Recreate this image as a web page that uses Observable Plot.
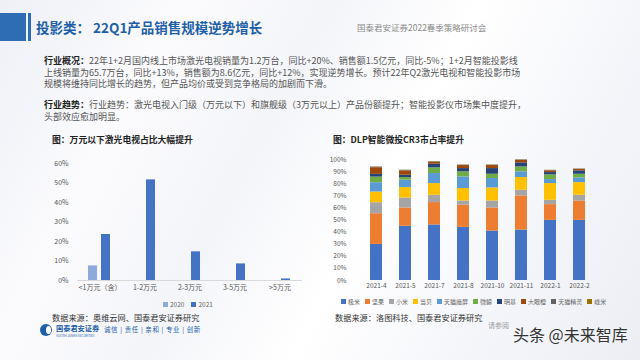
<!DOCTYPE html>
<html>
<head>
<meta charset="utf-8">
<script src="https://cdn.jsdelivr.net/npm/d3@7"></script>
<script src="https://cdn.jsdelivr.net/npm/@observablehq/plot@0.6"></script>
<style>
  html, body { margin:0; padding:0; }
  body {
    width:640px; height:360px; overflow:hidden; position:relative;
    font-family:"Noto Sans CJK SC","Noto Sans",sans-serif;
    background: linear-gradient(118deg, #eef0f6 0%, #fbfbfd 22%, #f4f5f9 40%, #ffffff 58%, #f5f6fa 78%, #eceef4 100%);
  }
  .abs { position:absolute; white-space:nowrap; }
  #hbar1 { left:0; top:13px; width:26px; height:28px; background:#2e6db4; }
  #hbar2 { left:28px; top:13px; width:3px; height:28px; background:#2e6db4; }
  #title { left:36px; top:17px; font-size:13.5px; font-weight:bold; color:#1f5fa6; }
  #conf { left:357px; top:21px; font-size:8.5px; color:#8a8a8a; }
  .para { left:44px; font-size:9px; color:#555; line-height:11.5px; }
  .para b { color:#222; }
  .ctitle { font-size:8.8px; font-weight:bold; color:#222; }
  .src { font-size:8.2px; color:#333; }
  .legend { font-size:6.5px; color:#666; display:flex; align-items:center; }
  .legend span.sw { display:inline-block; width:5px; height:5px; margin-right:2px; }
  .legend .it { display:flex; align-items:center; margin-right:7px; }
  #chartL { left:45px; top:150px; }
  #chartR { left:325px; top:150px; }
  #logoC { left:40px; top:324px; width:12px; height:12px; border-radius:50%; background:#1d5ea8; }
  #logoC2 { left:46px; top:326px; width:5px; height:8px; border-radius:50%; background:#fff; }
  #logoT { left:56px; top:323px; font-size:7.2px; font-weight:bold; color:#1d5ea8; }
  #logoE { left:56px; top:334px; font-size:3px; color:#1d5ea8; }
  #tag { left:104px; top:324px; font-size:6.5px; color:#1d5ea8; letter-spacing:0.6px; }
  #wm { left:513px; top:322px; font-size:16px; color:#333; text-shadow:0 0 2px #fff; }
  #faint { left:488px; top:320px; font-size:7px; color:#999; }
</style>
</head>
<body>
<script>
// ---- Left chart data ----
const leftCats = ["<1万元（含）", "1-2万元", "2-3万元", "3-5万元", ">5万元"];
const leftYears = ["2020", "2021"];
const share2020 = [7.5, 0, 0, 0, 0];
const share2021 = [23.6, 51.6, 14.7, 8.5, 0.8];
const leftTicks = [0, 10, 20, 30, 40, 50, 60];
const leftColors = ["#8eaadb", "#4472c4"];

// ---- Right chart data ----
const months = ["2021-4", "2021-5", "2021-7", "2021-8", "2021-10", "2021-11", "2022-1", "2022-2"];
const brands = ["极米", "坚果", "小米", "当贝", "天猫魔屏", "微鲸", "明基", "大眼橙", "天猫精灵", "峰米"];
const jimi       = [29.8, 44.8, 45.9, 43.9, 40.9, 41.7, 49.7, 49.7];
const jianguo    = [25.4, 15.1, 18.5, 18.3, 19.0, 28.2, 13.0, 16.0];
const xiaomi     = [9.1, 8.3, 6.0, 3.5, 5.8, 4.7, 3.6, 4.7];
const dangbei    = [8.8, 8.6, 9.7, 10.3, 10.8, 10.5, 13.8, 10.5];
const tmMoping   = [7.7, 6.1, 8.3, 9.6, 7.8, 4.7, 3.3, 3.9];
const weijing    = [4.7, 2.2, 4.7, 4.2, 3.5, 4.1, 3.9, 3.0];
const mingji     = [2.2, 1.9, 3.0, 2.7, 4.7, 3.3, 1.9, 2.8];
const dayancheng = [5.5, 3.6, 1.7, 2.5, 2.5, 2.0, 1.4, 1.1];
const tmJingling = [0.5, 0.4, 0.3, 0.3, 0.3, 0.4, 0.3, 0.3];
const fengmi     = [0.2, 0.2, 0.2, 0.2, 0.2, 0.2, 0.2, 0.2];
const rightTicks = [0, 10, 20, 30, 40, 50, 60, 70, 80, 90, 100];
const brandColors = ["#4472c4", "#ed7d31", "#a5a5a5", "#ffc000", "#5b9bd5", "#70ad47", "#264478", "#9e480e", "#636363", "#997300"];

const leftData = [];
leftCats.forEach((c, i) => {
  leftData.push({cat: c, year: "2020", value: share2020[i]});
  leftData.push({cat: c, year: "2021", value: share2021[i]});
});
const seriesVals = [jimi, jianguo, xiaomi, dangbei, tmMoping, weijing, mingji, dayancheng, tmJingling, fengmi];
const rightData = [];
months.forEach((m, i) => {
  brands.forEach((b, j) => rightData.push({month: m, brand: b, value: seriesVals[j][i]}));
});

function add(html, id, cls, style) {
  const d = document.createElement("div");
  d.className = "abs" + (cls ? " " + cls : "");
  if (id) d.id = id;
  if (style) d.setAttribute("style", style);
  d.innerHTML = html;
  document.body.appendChild(d);
  return d;
}

add("", "hbar1"); add("", "hbar2");
add("投影类： 22Q1产品销售规模逆势增长", "title");
add("国泰君安证券2022春季策略研讨会", "conf");
add("<b>行业概况：</b>22年1+2月国内线上市场激光电视销量为1.2万台，同比+20%、销售额1.5亿元，同比-5%；1+2月智能投影线<br>上线销量为65.7万台，同比+13%，销售额为8.6亿元，同比+12%，实现逆势增长。预计22年Q2激光电视和智能投影市场<br>规模将维持同比增长的趋势，但产品均价或受到竞争格局的加剧而下滑。", null, "para", "top:55px;");
add("<b>行业趋势：</b>行业趋势：激光电视入门级（万元以下）和旗舰级（3万元以上）产品份额提升；智能投影仪市场集中度提升，<br>头部效应愈加明显。", null, "para", "top:99px;");
add("图：万元以下激光电视占比大幅提升", null, "ctitle", "left:52px;top:133px;");
add("图：DLP智能微投CR3市占率提升", null, "ctitle", "left:333px;top:133px;");

const font = "'Noto Sans CJK SC','Noto Sans',sans-serif";

const left = Plot.plot({
  width: 265, height: 148,
  marginTop: 13, marginBottom: 18, marginLeft: 30, marginRight: 7,
  style: {background: "transparent", fontSize: "7px", fontFamily: font, color: "#555", overflow: "visible"},
  fx: {domain: leftCats, padding: 0, label: null, axis: "bottom", tickSize: 0, tickPadding: 5},
  x: {domain: leftYears, axis: null, paddingInner: 0.286, paddingOuter: 0.77},
  y: {domain: [0, 60], ticks: leftTicks, tickFormat: d => d + "%", tickSize: 0, tickPadding: 9, label: null},
  color: {domain: leftYears, range: leftColors},
  marks: [
    Plot.ruleY([0], {stroke: "#d9d9d9"}),
    Plot.barY(leftData, {fx: "cat", x: "year", y: "value", fill: "year"})
  ]
});
const lw = add("", "chartL");
lw.appendChild(left);

const right = Plot.plot({
  width: 290, height: 145,
  marginTop: 9, marginBottom: 15, marginLeft: 27, marginRight: 12,
  style: {background: "transparent", fontSize: "6.5px", fontFamily: font, color: "#555", overflow: "visible"},
  x: {domain: months, padding: 0.6, tickSize: 0, tickPadding: 3, label: null},
  y: {domain: [0, 100], ticks: rightTicks, tickFormat: d => d + "%", tickSize: 0, tickPadding: 6, label: null},
  color: {domain: brands, range: brandColors},
  marks: [
    Plot.barY(rightData, {x: "month", y: "value", fill: "brand"})
  ]
});
const rw = add("", "chartR");
rw.appendChild(right);

// legends
const lg = add("", null, "legend", "left:163px;top:299px;");
leftYears.forEach((y, i) => {
  lg.innerHTML += `<span class="it"><span class="sw" style="background:${leftColors[i]}"></span>${y}</span>`;
});
const rg = add("", null, "legend", "left:341px;top:297px;font-size:6px;");
brands.forEach((b, i) => {
  rg.innerHTML += `<span class="it" style="margin-right:5px"><span class="sw" style="background:${brandColors[i]}"></span>${b}</span>`;
});

add("数据来源：奥维云网、国泰君安证券研究", null, "src", "left:52px;top:311px;");
add("数据来源：洛图科技、国泰君安证券研究", null, "src", "left:335px;top:311px;");

add("", "logoC"); add("", "logoC2");
add("国泰君安证券", "logoT");
add("GUOTAI JUNAN SECURITIES", "logoE");
add("诚信 | 责任 | 亲和 | 专业 | 创新", "tag");
add("请参阅", "faint");
add("头条 @未来智库", "wm");
</script>
</body>
</html>
